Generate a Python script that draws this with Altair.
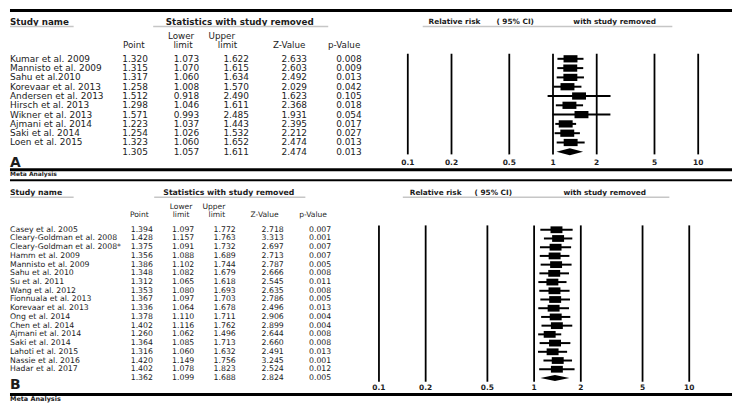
import altair as alt
import pandas as pd

# ---------------- data ----------------
a_studies = ["Kumar et al. 2009", "Mannisto et al. 2009", "Sahu et al.2010",
             "Korevaar et al. 2013", "Andersen et al. 2013", "Hirsch et al. 2013",
             "Wikner et al. 2013", "Ajmani et al. 2014", "Saki et al. 2014",
             "Loen et al. 2015"]
a_point = [1.320, 1.315, 1.317, 1.258, 1.512, 1.298, 1.571, 1.223, 1.254, 1.323]
a_lower = [1.073, 1.070, 1.060, 1.008, 0.918, 1.046, 0.993, 1.037, 1.026, 1.060]
a_upper = [1.622, 1.615, 1.634, 1.570, 2.490, 1.611, 2.485, 1.443, 1.532, 1.652]
a_z = [2.633, 2.603, 2.492, 2.029, 1.623, 2.368, 1.931, 2.395, 2.212, 2.474]
a_p = [0.008, 0.009, 0.013, 0.042, 0.105, 0.018, 0.054, 0.017, 0.027, 0.013]
a_summary = [1.305, 1.057, 1.611, 2.474, 0.013]  # point, lower, upper, z, p

b_studies = ["Casey et al. 2005", "Cleary-Goldman et al. 2008",
             "Cleary-Goldman et al. 2008*", "Hamm et al. 2009",
             "Mannisto et al. 2009", "Sahu et al. 2010", "Su et al. 2011",
             "Wang et al. 2012", "Fionnuala et al. 2013", "Korevaar et al. 2013",
             "Ong et al. 2014", "Chen et al. 2014", "Ajmani et al. 2014",
             "Saki et al. 2014", "Lahoti et al. 2015", "Nassie et al. 2016",
             "Hadar et al. 2017"]
b_point = [1.394, 1.428, 1.375, 1.356, 1.386, 1.348, 1.312, 1.353, 1.367, 1.336,
           1.378, 1.402, 1.260, 1.364, 1.316, 1.420, 1.402]
b_lower = [1.097, 1.157, 1.091, 1.088, 1.102, 1.082, 1.065, 1.080, 1.097, 1.064,
           1.110, 1.116, 1.062, 1.085, 1.060, 1.149, 1.078]
b_upper = [1.772, 1.763, 1.732, 1.689, 1.744, 1.679, 1.618, 1.693, 1.703, 1.678,
           1.711, 1.762, 1.496, 1.713, 1.632, 1.756, 1.823]
b_z = [2.718, 3.313, 2.697, 2.713, 2.787, 2.666, 2.545, 2.635, 2.786, 2.496,
       2.906, 2.899, 2.644, 2.660, 2.491, 3.245, 2.524]
b_p = [0.007, 0.001, 0.007, 0.007, 0.005, 0.008, 0.011, 0.008, 0.005, 0.013,
       0.004, 0.004, 0.008, 0.008, 0.013, 0.001, 0.012]
b_summary = [1.362, 1.099, 1.688, 2.824, 0.005]

tick_values = [0.1, 0.2, 0.5, 1, 2, 5, 10]
tick_labels = ["0.1", "0.2", "0.5", "1", "2", "5", "10"]

# ---------------- style ----------------
FONT = "DejaVu Sans"
INK = "#1c1c1c"
GREY = "#c6c6c6"
W = 726
one = pd.DataFrame({"k": [0]})


def build_df(studies, point, lower, upper, z, p, summary):
    rows = []
    for i, s in enumerate(studies):
        rows.append(dict(row=i, study=s, point=point[i], lower=lower[i],
                         upper=upper[i], z=z[i], p=p[i]))
    rows.append(dict(row=len(studies), study="", point=summary[0],
                     lower=summary[1], upper=summary[2], z=summary[3],
                     p=summary[4]))
    return pd.DataFrame(rows)


def hline(x1, x2, y, sw, color="black"):
    return alt.Chart(one).mark_rule(color=color, strokeWidth=sw).encode(
        x=alt.value(x1), x2=alt.value(x2), y=alt.value(y))


def label(text, x, y, size, bold=False, align="center"):
    return alt.Chart(one).mark_text(
        text=text, align=align, baseline="middle", font=FONT, fontSize=size,
        fontWeight="bold" if bold else "normal", color=INK
    ).encode(x=alt.value(x), y=alt.value(y))


def panel(studies, point, lower, upper, z, p, summary, L):
    df = build_df(studies, point, lower, upper, z, p, summary)
    n = len(studies)
    study_df = df[df.row < n]
    ys = alt.Scale(domain=[0, n], range=[L["row0"], L["rowN"]], zero=False, nice=False)
    xs = alt.Scale(type="log", domain=[0.1, 10], range=[L["x01"], L["x10"]], nice=False)
    Y = alt.Y("row:Q", scale=ys, axis=None)

    layers = []
    # horizontal frame lines
    layers.append(hline(0, W, L["top_y"], L["top_sw"]))
    layers.append(hline(0, W, L["bot_y"], 3))
    # headers
    layers.append(label("Study name", 0, L["h_y"], L["h_size"], True, "left"))
    layers.append(hline(0, 64, L["ul_y"], 1.5, GREY))
    layers.append(label("Statistics with study removed", L["stat_c"], L["h_y"], L["h_size"], True))
    layers.append(hline(L["stat_ul"][0], L["stat_ul"][1], L["ul_y"], 1.5, GREY))
    for txt, cx in zip(["Relative risk", "( 95% CI)", "with study removed"], L["rr_c"]):
        layers.append(label(txt, cx, L["h_y"], 7.4, True))
    layers.append(hline(L["rr_ul"][0], L["rr_ul"][1], L["ul_y"], 1.5, GREY))
    hc = L["hcols"]
    layers.append(label("Point", hc[0], L["h2"], L["c_size"]))
    layers.append(label("Lower", hc[1], L["h1"], L["c_size"]))
    layers.append(label("limit", hc[2], L["h2"], L["c_size"]))
    layers.append(label("Upper", hc[3], L["h1"], L["c_size"]))
    layers.append(label("limit", hc[4], L["h2"], L["c_size"]))
    layers.append(label("Z-Value", hc[5], L["h2"], L["c_size"]))
    layers.append(label("p-Value", hc[6], L["h2"], L["c_size"]))

    # table body
    layers.append(alt.Chart(df).mark_text(
        align="left", baseline="middle", font=FONT, fontSize=L["t_size"], color=INK
    ).encode(x=alt.value(0), y=Y, text="study:N"))
    for col, xr in zip(["point", "lower", "upper", "z", "p"], L["num_r"]):
        layers.append(alt.Chart(df).mark_text(
            align="right", baseline="middle", font=FONT, fontSize=L["t_size"], color=INK
        ).encode(x=alt.value(xr), y=Y, text=alt.Text(f"{col}:Q", format=".3f")))

    # forest: reference lines and labels
    tdf = pd.DataFrame({"t": tick_values, "lab": tick_labels})
    layers.append(alt.Chart(tdf).mark_rule(color="black", strokeWidth=1.8).encode(
        x=alt.X("t:Q", scale=xs, axis=None),
        y=alt.value(L["vl"][0]), y2=alt.value(L["vl"][1])))
    layers.append(alt.Chart(tdf).mark_text(
        baseline="middle", font=FONT, fontSize=7.5, fontWeight="bold", color=INK
    ).encode(x=alt.X("t:Q", scale=xs, axis=None), y=alt.value(L["tick_y"]), text="lab:N"))

    # whiskers and boxes
    layers.append(alt.Chart(study_df).mark_rule(color="black", strokeWidth=2).encode(
        x=alt.X("lower:Q", scale=xs, axis=None), x2="upper:Q", y=Y))
    layers.append(alt.Chart(study_df).mark_point(
        shape=L["box_path"], filled=True, size=L["box_size"], color="black", opacity=1
    ).encode(x=alt.X("point:Q", scale=xs, axis=None), y=Y))

    # summary diamond
    h = L["dh"]
    ddf = pd.DataFrame({"x": [summary[1], summary[0], summary[2]],
                        "y": [n, n - h, n], "y2": [n, n + h, n]})
    layers.append(alt.Chart(ddf).mark_area(color="black", orient="vertical", opacity=1).encode(
        x=alt.X("x:Q", scale=xs, axis=None),
        y=alt.Y("y:Q", scale=ys, axis=None), y2="y2:Q"))

    # panel letter and footer
    layers.append(label(L["letter"], 0, L["letter_y"], 14, True, "left"))
    layers.append(label("Meta Analysis", 0, L["meta_y"], L["meta_size"], True, "left"))

    return alt.layer(*layers).properties(width=W, height=L["H"])


LA = dict(H=170, top_y=1.5, top_sw=3, bot_y=161.6,
          h_y=13, h_size=8.8, ul_y=17.6, stat_c=231, stat_ul=(144, 320),
          rr_c=(447, 508, 608), rr_ul=(415, 666),
          h1=27.0, h2=36.4, c_size=8.8,
          hcols=(124.5, 172, 174, 213, 218.7, 280.7, 336),
          t_size=9, num_r=(138.7, 190.3, 240.3, 298.7, 353.7),
          row0=50.0, rowN=143.5, x01=400, x10=692, vl=(44.9, 146.1), tick_y=154.8,
          box_path="M-1,-0.52L1,-0.52L1,0.52L-1,0.52Z", box_size=196, dh=0.37,
          letter="A", letter_y=154.8, meta_y=166.2, meta_size=6)

LB = dict(H=225, top_y=2.2, top_sw=2, bot_y=217.5,
          h_y=14.7, h_size=7.8, ul_y=19.3, stat_c=220, stat_ul=(145, 297),
          rr_c=(428, 486, 598), rr_ul=(395, 663),
          h1=29.0, h2=37.0, c_size=7.6,
          hcols=(130, 172, 172, 205, 208, 256, 304.7),
          t_size=7.8, num_r=(143.7, 185.3, 227, 275.3, 323),
          row0=51.9, rowN=200.9, x01=371, x10=683, vl=(47.5, 204.7), tick_y=211.5,
          box_path="M-1,-0.57L1,-0.57L1,0.57L-1,0.57Z", box_size=144, dh=0.34,
          letter="B", letter_y=208.3, meta_y=222, meta_size=6.5)

chart_a = panel(a_studies, a_point, a_lower, a_upper, a_z, a_p, a_summary, LA)
chart_b = panel(b_studies, b_point, b_lower, b_upper, b_z, b_p, b_summary, LB)

chart = alt.vconcat(chart_a, chart_b, spacing=0, bounds="flush").properties(
    padding=0, background="white"
).configure_view(stroke=None)

chart.save("out.html", embed_options={"renderer": "svg", "actions": False})
